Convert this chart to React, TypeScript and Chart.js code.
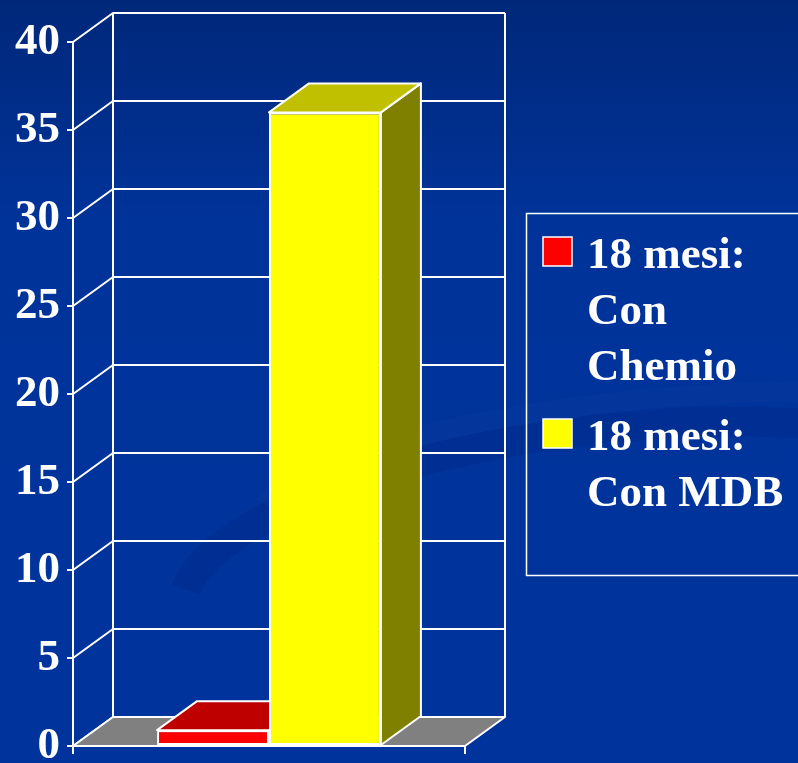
import React, { useEffect, useRef } from "react";
import { Chart, registerables } from "chart.js";

Chart.register(...registerables);

const categories = ["18 mesi"];
const seriesLabels = ["18 mesi: Con Chemio", "18 mesi: Con MDB"];
const legendLines = [
  ["18 mesi:", "Con", "Chemio"],
  ["18 mesi:", "Con MDB"],
];
const chemioValues = [0.9];
const mdbValues = [36];
const yMin = 0;
const yMax = 40;
const yStep = 5;

const FRONT = ["#FF0000", "#FFFF00"];
const TOP = ["#BE0000", "#C0C000"];
const SIDE = ["#8A0000", "#808000"];
const DX = 40;
const DY = -29;
const FONT = "'Liberation Serif', 'Times New Roman', serif";

const threeD = {
  id: "threeD",
  beforeDraw(chart: any) {
    const { ctx, width, height } = chart;
    ctx.save();
    const g = ctx.createLinearGradient(0, 0, 0, height);
    g.addColorStop(0, "#00287A");
    g.addColorStop(0.3, "#00339A");
    g.addColorStop(1, "#00349C");
    ctx.fillStyle = g;
    ctx.fillRect(0, 0, width, height);
    // faint swirl decoration
    ctx.strokeStyle = "rgba(0,30,110,0.18)";
    ctx.lineWidth = 30;
    ctx.beginPath();
    ctx.ellipse(600, 560, 420, 130, -0.12, Math.PI * 1.05, Math.PI * 2.15);
    ctx.stroke();
    ctx.strokeStyle = "rgba(40,80,170,0.10)";
    ctx.lineWidth = 20;
    ctx.beginPath();
    ctx.ellipse(640, 480, 380, 80, -0.1, Math.PI * 1.05, Math.PI * 2.0);
    ctx.stroke();
    ctx.restore();
  },
  beforeDatasetsDraw(chart: any) {
    const { ctx, chartArea } = chart;
    const { left, right, top, bottom } = chartArea;
    const y = chart.scales.y;
    ctx.save();
    ctx.strokeStyle = "#FFFFFF";
    ctx.lineWidth = 2;
    ctx.lineJoin = "round";
    ctx.beginPath();
    ctx.moveTo(left + DX, top + DY);
    ctx.lineTo(left + DX, bottom + DY);
    ctx.moveTo(right + DX, top + DY);
    ctx.lineTo(right + DX, bottom + DY);
    ctx.stroke();
    y.ticks.forEach((t: any) => {
      const py = y.getPixelForValue(t.value);
      ctx.beginPath();
      ctx.moveTo(left, py);
      ctx.lineTo(left + DX, py + DY);
      ctx.lineTo(right + DX, py + DY);
      ctx.stroke();
    });
    ctx.beginPath();
    ctx.moveTo(left, bottom);
    ctx.lineTo(left + DX, bottom + DY);
    ctx.lineTo(right + DX, bottom + DY);
    ctx.lineTo(right, bottom);
    ctx.closePath();
    ctx.fillStyle = "#808080";
    ctx.fill();
    ctx.stroke();
    ctx.beginPath();
    ctx.moveTo(left, bottom);
    ctx.lineTo(left, bottom + 8);
    ctx.moveTo(right, bottom);
    ctx.lineTo(right, bottom + 8);
    ctx.stroke();
    chart.data.datasets.forEach((ds: any, di: number) => {
      const meta = chart.getDatasetMeta(di);
      meta.data.forEach((bar: any) => {
        const p = bar.getProps(["x", "y", "base", "width"], true);
        const l = p.x - p.width / 2;
        const r = p.x + p.width / 2;
        const t = Math.min(p.y, p.base);
        const b = Math.max(p.y, p.base);
        ctx.beginPath();
        ctx.moveTo(r, t);
        ctx.lineTo(r + DX, t + DY);
        ctx.lineTo(r + DX, b + DY);
        ctx.lineTo(r, b);
        ctx.closePath();
        ctx.fillStyle = SIDE[di];
        ctx.fill();
        ctx.stroke();
        ctx.beginPath();
        ctx.moveTo(l, t);
        ctx.lineTo(l + DX, t + DY);
        ctx.lineTo(r + DX, t + DY);
        ctx.lineTo(r, t);
        ctx.closePath();
        ctx.fillStyle = TOP[di];
        ctx.fill();
        ctx.stroke();
      });
    });
    ctx.restore();
  },
  afterDraw(chart: any) {
    const { ctx } = chart;
    ctx.save();
    ctx.strokeStyle = "#FFFFFF";
    ctx.lineWidth = 1.5;
    ctx.strokeRect(526.5, 213.5, 300, 362);
    ctx.font = `bold 45px ${FONT}`;
    ctx.textBaseline = "alphabetic";
    ctx.textAlign = "left";
    const baselines = [[268, 324, 380], [450, 506]];
    legendLines.forEach((lines, i) => {
      const b0 = baselines[i][0];
      ctx.fillStyle = FRONT[i];
      ctx.fillRect(543, b0 - 31, 29, 29);
      ctx.strokeStyle = "#FFFFFF";
      ctx.lineWidth = 1.5;
      ctx.strokeRect(543, b0 - 31, 29, 29);
      ctx.fillStyle = "#FFFFFF";
      lines.forEach((txt, j) => {
        ctx.fillText(txt, 587, baselines[i][j]);
      });
    });
    ctx.restore();
  },
};

export default function App() {
  const ref = useRef<HTMLCanvasElement>(null);
  useEffect(() => {
    if (!ref.current) return;
    const chart = new Chart(ref.current, {
      type: "bar",
      data: {
        labels: categories,
        datasets: [
          {
            label: seriesLabels[0],
            data: chemioValues,
            backgroundColor: FRONT[0],
            borderColor: "#FFFFFF",
            borderWidth: 2,
            borderSkipped: false,
          },
          {
            label: seriesLabels[1],
            data: mdbValues,
            backgroundColor: FRONT[1],
            borderColor: "#FFFFFF",
            borderWidth: 2,
            borderSkipped: false,
          },
        ],
      },
      plugins: [threeD],
      options: {
        responsive: false,
        animation: false,
        devicePixelRatio: 1,
        datasets: { bar: { barPercentage: 1, categoryPercentage: 0.571 } },
        layout: { padding: { left: 0, top: 42, right: 333, bottom: 17 } },
        plugins: { legend: { display: false }, tooltip: { enabled: false } },
        scales: {
          x: { display: false, offset: true },
          y: {
            min: yMin,
            max: yMax,
            ticks: {
              stepSize: yStep,
              color: "#FFFFFF",
              padding: 7,
              font: { family: FONT, size: 45, weight: "bold" },
            },
            grid: {
              display: true,
              drawOnChartArea: false,
              drawTicks: true,
              tickLength: 6,
              color: "#FFFFFF",
              lineWidth: 2,
            },
            border: { display: true, color: "#FFFFFF", width: 2 },
            afterFit: (s: any) => {
              s.width = 73;
              s.paddingTop = 0;
              s.paddingBottom = 0;
            },
          },
        },
      } as any,
    });
    return () => chart.destroy();
  }, []);
  return (
    <div style={{ position: "fixed", left: 0, top: 0, width: 798, height: 763 }}>
      <canvas ref={ref} width={798} height={763} style={{ display: "block" }} />
    </div>
  );
}
